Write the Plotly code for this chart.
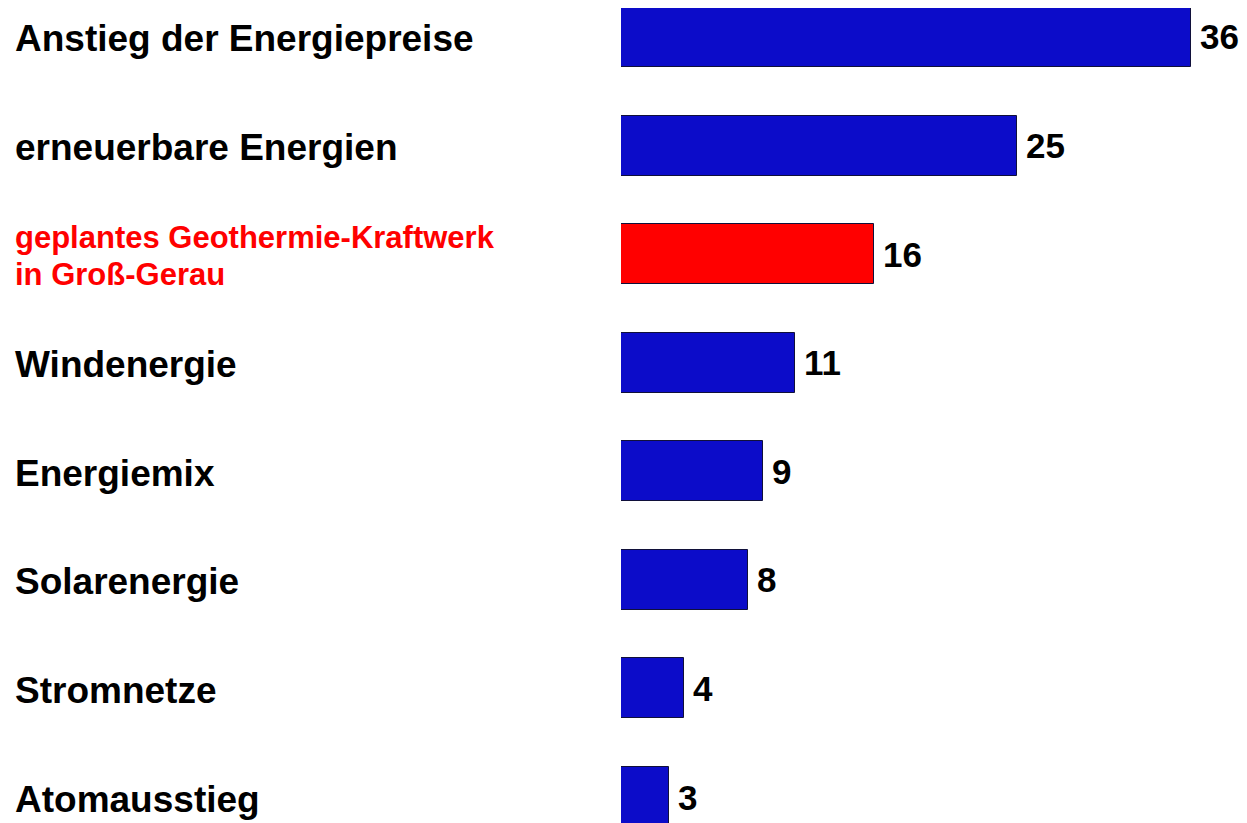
import plotly.graph_objects as go

categories = [
    "Anstieg der Energiepreise",
    "erneuerbare Energien",
    "geplantes Geothermie-Kraftwerk<br>in Groß-Gerau",
    "Windenergie",
    "Energiemix",
    "Solarenergie",
    "Stromnetze",
    "Atomausstieg",
]
values = [36, 25, 16, 11, 9, 8, 4, 3]
highlight = [False, False, True, False, False, False, False, False]

BLUE = "#0c0cc9"
RED = "#ff0000"
FONT = "Liberation Sans, Arial, sans-serif"

fig = go.Figure()
fig.add_trace(go.Bar(
    x=values,
    y=categories,
    orientation="h",
    width=0.553,
    marker=dict(color=[RED if h else BLUE for h in highlight],
                line=dict(color="#10103a", width=1)),
    hoverinfo="skip",
))

# category labels, left aligned at the left edge of the picture
for cat, h in zip(categories, highlight):
    lines = cat.split("<br>")
    size = 31 if h else 37
    step = 37
    for i, line in enumerate(lines):
        off = (len(lines) - 1) / 2 - i
        fig.add_annotation(
            x=0, xref="paper", xanchor="left", xshift=-608,
            y=cat, yref="y", yanchor="middle", yshift=off * step - 2,
            text=f"<b>{line}</b>", showarrow=False,
            font=dict(family=FONT, size=size, color=RED if h else "black"),
        )

# value labels right of the bars
for cat, v in zip(categories, values):
    fig.add_annotation(
        x=v, y=cat, xanchor="left", yanchor="middle", xshift=7,
        text=f"<b>{v}</b>", showarrow=False,
        font=dict(family=FONT, size=35, color="black"),
    )

# the page adds an 8px body margin, so the figure is a bit smaller
fig.update_layout(
    width=1239, height=815,
    margin=dict(l=613, r=0, t=0, b=0),
    paper_bgcolor="white", plot_bgcolor="white",
    showlegend=False,
    bargap=0,
)
fig.update_xaxes(range=[0, 39.54], visible=False, fixedrange=True)
fig.update_yaxes(range=[7.2395, -0.267], visible=False, fixedrange=True)

fig.write_html("out.html")
